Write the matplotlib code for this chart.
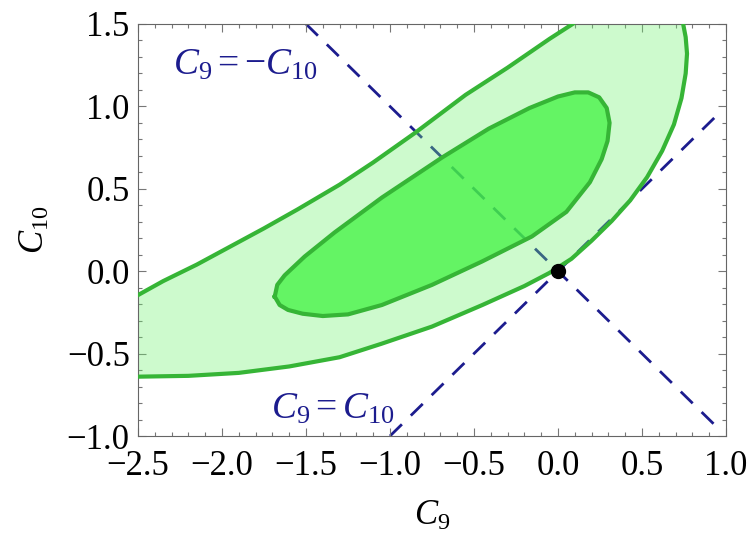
import matplotlib
matplotlib.use("Agg")  # headless
import matplotlib.pyplot as plt
from matplotlib.ticker import MultipleLocator

plt.rcParams['font.family'] = ['Liberation Serif', 'DejaVu Serif']
plt.rcParams['mathtext.fontset'] = 'custom'
plt.rcParams['mathtext.rm'] = 'Liberation Serif'
plt.rcParams['mathtext.it'] = 'Liberation Serif:italic'

# --- data ------------------------------------------------------------------
# outer (light) region: upper edge, from the top of the frame down to the left edge
outer_upper_c9 = [0.087, -0.05, -0.15, -0.30, -0.55, -0.85, -1.10, -1.30, -1.55,
                  -1.75, -1.95, -2.15, -2.35, -2.50]
outer_upper_c10 = [1.50, 1.41, 1.34, 1.235, 1.07, 0.84, 0.66, 0.525, 0.375,
                   0.26, 0.15, 0.04, -0.06, -0.145]
# outer region: lower / right edge, from the left edge round to the top of the frame
outer_lower_c9 = [-2.50, -2.20, -1.90, -1.60, -1.30, -1.05, -0.75, -0.45, -0.20,
                  -0.05, 0.08, 0.20, 0.32, 0.43, 0.53, 0.62, 0.69, 0.735,
                  0.76, 0.768, 0.76, 0.745]
outer_lower_c10 = [-0.64, -0.635, -0.617, -0.578, -0.522, -0.44, -0.336, -0.205, -0.09,
                   -0.01, 0.075, 0.185, 0.305, 0.43, 0.57, 0.73, 0.89, 1.05,
                   1.20, 1.32, 1.42, 1.50]
# inner (dark) region, closed contour
inner_c9 = [-1.686, -1.671, -1.627, -1.508, -1.33, -1.048, -0.69, -0.412, -0.17, 0.0,
            0.10, 0.18, 0.245, 0.29, 0.307, 0.295, 0.26, 0.19, 0.05, -0.155,
            -0.452, -0.75, -1.048, -1.25, -1.40, -1.52, -1.607, -1.657]
inner_c10 = [-0.154, -0.083, -0.025, 0.089, 0.235, 0.447, 0.69, 0.865, 0.99, 1.06,
             1.085, 1.085, 1.055, 0.99, 0.90, 0.79, 0.68, 0.54, 0.36, 0.211,
             0.059, -0.083, -0.205, -0.262, -0.272, -0.258, -0.235, -0.205]

# reference lines C9 = -C10 and C9 = C10
minus_c9 = [-1.5, 0.94]
minus_c10 = [1.5, -0.94]
plus_c9 = [-1.0, 0.94]
plus_c10 = [-1.0, 0.94]

# Standard Model point
sm_c9 = [0.0]
sm_c10 = [0.0]

x_ticks = [-2.5, -2.0, -1.5, -1.0, -0.5, 0.0, 0.5, 1.0]
y_ticks = [-1.0, -0.5, 0.0, 0.5, 1.0, 1.5]

green_line = '#36b536'
navy = '#1c1c8e'

fig = plt.figure(figsize=(7.51, 5.34), dpi=100)
ax = fig.add_axes([0.18375, 0.18352, 0.78296, 0.77154])

# dashed lines first, the regions are laid over them with some opacity
dash_kw = dict(color=navy, lw=2.0, dashes=(6, 4.5), zorder=1)
ax.plot(minus_c9, minus_c10, **dash_kw)
ax.plot(plus_c9, plus_c10, **dash_kw)

ax.fill(outer_lower_c9 + outer_upper_c9, outer_lower_c10 + outer_upper_c10,
        color='#70f170', alpha=0.35, lw=0, zorder=2)
ax.fill(inner_c9, inner_c10, color='#41f341', alpha=0.75, lw=0, zorder=3)

line_kw = dict(color=green_line, lw=3.0, solid_joinstyle='round', zorder=4)
ax.plot(outer_upper_c9, outer_upper_c10, **line_kw)
ax.plot(outer_lower_c9, outer_lower_c10, **line_kw)
ax.plot(inner_c9 + inner_c9[:1], inner_c10 + inner_c10[:1], **line_kw)

ax.plot(sm_c9, sm_c10, 'o', color='black', ms=10, zorder=5)

ax.text(-2.292, 1.195, r'$C_{\mathit{9}}=-C_{\mathit{10}}$', color=navy,
        fontsize=27, ha='left', va='baseline', zorder=6)
ax.text(-1.708, -0.892, r'$C_{\mathit{9}}=C_{\mathit{10}}$', color=navy,
        fontsize=27, ha='left', va='baseline', zorder=6)

ax.set_xlim(-2.5, 1.0)
ax.set_ylim(-1.0, 1.5)
ax.set_xticks(x_ticks)
ax.set_yticks(y_ticks)
ax.xaxis.set_minor_locator(MultipleLocator(0.1))
ax.yaxis.set_minor_locator(MultipleLocator(0.1))
ax.tick_params(which='both', direction='in', top=True, right=True,
               color='#777777', width=0.8, labelsize=25)
ax.tick_params(which='major', length=5.5)
ax.tick_params(which='minor', length=3)
ax.tick_params(axis='x', which='major', pad=10)
ax.tick_params(axis='y', which='major', pad=6)
for s in ax.spines.values():
    s.set_color('#666666')
    s.set_linewidth(0.8)

ax.set_xlabel(r'$C_9$', fontsize=25, va='center')
ax.xaxis.set_label_coords(0.5, -0.196)
ax.set_ylabel(r'$C_{10}$', fontsize=25, va='center')
ax.yaxis.set_label_coords(-0.175, 0.5)

fig.savefig('out.png', dpi=100)
plt.close('all')
